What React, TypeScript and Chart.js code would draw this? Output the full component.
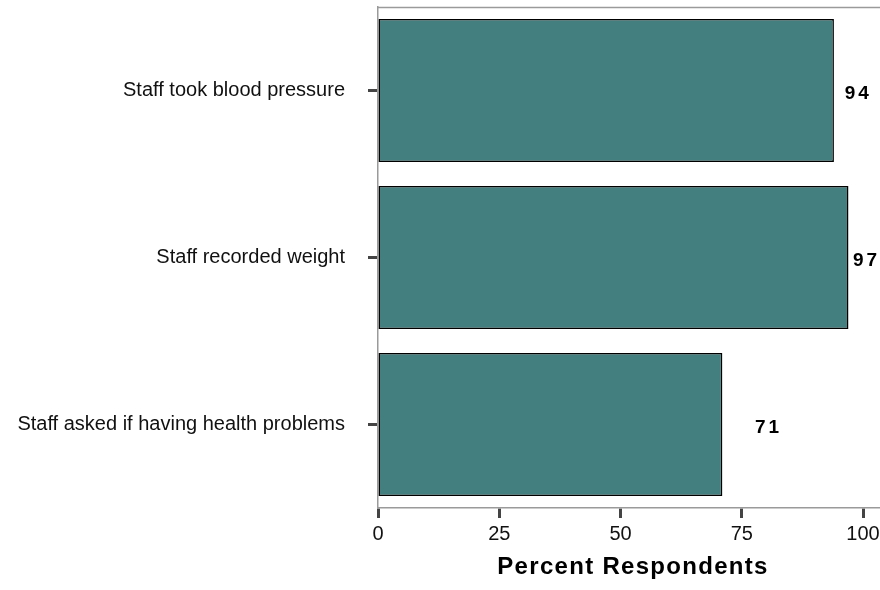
import React, { useEffect, useRef } from "react";
import { Chart, registerables } from "chart.js";

Chart.register(...registerables);

const categories = [
  "Staff took blood pressure",
  "Staff recorded weight",
  "Staff asked if having health problems",
];
const percentValues = [94, 97, 71];
const valueLabels = ["94", "97", "71"];
const xTickValues = [0, 25, 50, 75, 100];
const axisTitle = "Percent Respondents";

// where the value labels sit, in percent units on the x scale
const labelAnchors = [98.7, 100.4, 80.2];

const FONT = "'Liberation Sans', Arial, Helvetica, sans-serif";

const extrasPlugin = {
  id: "extras",
  afterDraw(chart: any) {
    const { ctx, chartArea } = chart;
    const xs = chart.scales.x;
    const ys = chart.scales.y;
    ctx.save();
    // top frame line
    ctx.strokeStyle = "#9a9a9a";
    ctx.lineWidth = 1.5;
    ctx.beginPath();
    ctx.moveTo(chartArea.left, chartArea.top + 0.5);
    ctx.lineTo(chartArea.right, chartArea.top + 0.5);
    ctx.stroke();

    // value labels
    ctx.fillStyle = "#000";
    ctx.font = `bold 19px ${FONT}`;
    (ctx as any).letterSpacing = "3px";
    ctx.textAlign = "center";
    ctx.textBaseline = "middle";
    valueLabels.forEach((t, i) => {
      const x = xs.getPixelForValue(labelAnchors[i]);
      const y = ys.getPixelForValue(i) + 3;
      ctx.fillText(t, x + 1.5, y);
    });

    // axis title
    (ctx as any).letterSpacing = "1.3px";
    ctx.font = `bold 24px ${FONT}`;
    ctx.fillStyle = "#000";
    ctx.textBaseline = "alphabetic";
    ctx.fillText(axisTitle, (chartArea.left + chartArea.right) / 2 + 4, 574);
    ctx.restore();
  },
};

export default function App() {
  const ref = useRef<HTMLCanvasElement>(null);
  useEffect(() => {
    if (!ref.current) return;
    const chart = new Chart(ref.current, {
      type: "bar",
      data: {
        labels: categories,
        datasets: [
          {
            data: percentValues,
            backgroundColor: "#427f7e",
            borderColor: "#000",
            borderWidth: 1.5,
            borderSkipped: false,
            categoryPercentage: 1,
            barPercentage: 0.856,
          },
        ],
      },
      options: {
        indexAxis: "y",
        animation: false,
        responsive: false,
        layout: { padding: { top: 7, left: 0, right: 0, bottom: 0 } },
        plugins: {
          legend: { display: false },
          tooltip: { enabled: false },
          title: { display: false },
        },
        scales: {
          x: {
            type: "linear",
            min: 0,
            max: 103.5,
            afterBuildTicks(scale: any) {
              scale.ticks = xTickValues.map((v) => ({ value: v }));
            },
            afterFit(scale: any) {
              scale.height = 82;
              scale.paddingLeft = 0;
              scale.paddingRight = 0;
              scale.paddingTop = 0;
              scale.paddingBottom = 0;
            },
            grid: {
              display: true,
              drawOnChartArea: false,
              drawTicks: true,
              tickLength: 10,
              tickColor: "#444",
              tickWidth: 3,
            },
            border: { display: true, color: "#9a9a9a", width: 1.5 },
            ticks: {
              color: "#111",
              font: { family: FONT, size: 20 },
              padding: 4,
              maxRotation: 0,
              callback: (v: any) => String(v),
            },
          },
          y: {
            type: "category",
            afterFit(scale: any) {
              scale.width = 378;
              scale.paddingTop = 0;
              scale.paddingBottom = 0;
              scale.paddingLeft = 0;
              scale.paddingRight = 0;
            },
            grid: {
              display: true,
              offset: false,
              drawOnChartArea: false,
              drawTicks: true,
              tickLength: 10,
              tickColor: "#444",
              tickWidth: 3,
            },
            border: { display: true, color: "#9a9a9a", width: 1.5 },
            ticks: {
              color: "#111",
              font: { family: FONT, size: 20 },
              padding: 23,
            },
          },
        },
      },
      plugins: [extrasPlugin],
    });
    return () => chart.destroy();
  }, []);
  return (
    <div style={{ position: "absolute", left: 0, top: 0, width: 880, height: 590, background: "#fff" }}>
      <canvas ref={ref} width={880} height={590} style={{ width: 880, height: 590 }} />
    </div>
  );
}
